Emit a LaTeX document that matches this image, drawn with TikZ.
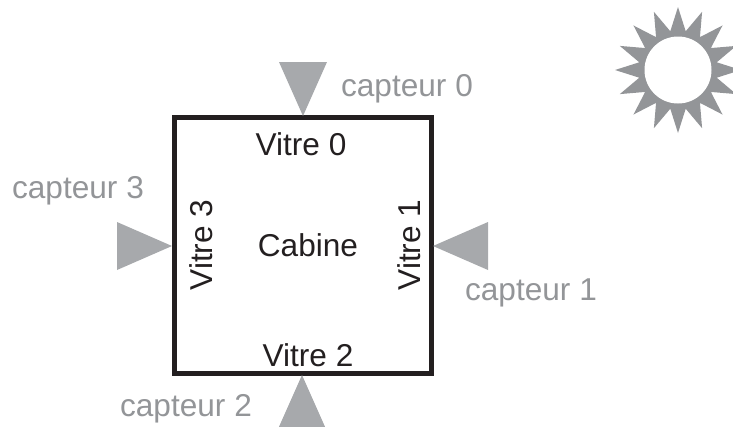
\documentclass[tikz,border=0pt]{standalone}
\usepackage{fontspec}
\setmainfont{Liberation Sans}
\definecolor{sensorgray}{HTML}{A7A9AC}
\definecolor{sungray}{HTML}{939598}
\definecolor{framedark}{HTML}{231F20}
\tikzset{
  paneltext/.style={anchor=base,inner sep=0pt,text=framedark,font=\fontsize{23.7}{28}\selectfont},
  sensortext/.style={anchor=base,inner sep=0pt,text=sungray,font=\fontsize{23.7}{28}\selectfont},
  sensorshape/.style={fill=sensorgray,draw=none},
}
\begin{document}
\begin{tikzpicture}[x=0.75pt,y=0.75pt,yscale=-1,xscale=1]
\useasboundingbox (0,0) rectangle (733,426);
%Shape: Sun
\fill [sungray] ([shift={(678,70)}]0:63)
  \foreach \ang in {0,22.5,...,337.5} { -- ([shift={(678,70)}]\ang:63) -- ([shift={(678,70)}]\ang+11.25:39.5) } -- cycle ;
\fill [white] (678,70) circle (33.5) ;
%Shape: Rectangle
\draw [framedark,line width=3.75pt] (174.5,117.5) -- (431,117.5) -- (431,373.5) -- (174.5,373.5) -- cycle ;
%Shape: Triangle
\fill [sensorshape] (279,62) -- (327,62) -- (303,116) -- cycle ;
%Shape: Triangle
\fill [sensorshape] (488,222) -- (488,270) -- (433,246) -- cycle ;
%Shape: Triangle
\fill [sensorshape] (302,375) -- (330,438) -- (274,438) -- cycle ;
%Shape: Triangle
\fill [sensorshape] (117,222) -- (117,270) -- (172,246) -- cycle ;
% Text Node
\node (cap0) at (407,96) [sensortext] {capteur 0};
% Text Node
\node (cap1) at (531,300) [sensortext] {capteur 1};
% Text Node
\node (cap2) at (186,416) [sensortext] {capteur 2};
% Text Node
\node (cap3) at (78,198) [sensortext] {capteur 3};
% Text Node
\node (vitre0) at (301,155) [paneltext] {Vitre 0};
% Text Node
\node (vitre1) at (420.5,245) [paneltext,rotate=90] {Vitre 1};
% Text Node
\node (vitre2) at (308,366) [paneltext] {Vitre 2};
% Text Node
\node (vitre3) at (212,245) [paneltext,rotate=90] {Vitre 3};
% Text Node
\node (cabine) at (308,256) [paneltext] {Cabine};
\end{tikzpicture}
\end{document}
